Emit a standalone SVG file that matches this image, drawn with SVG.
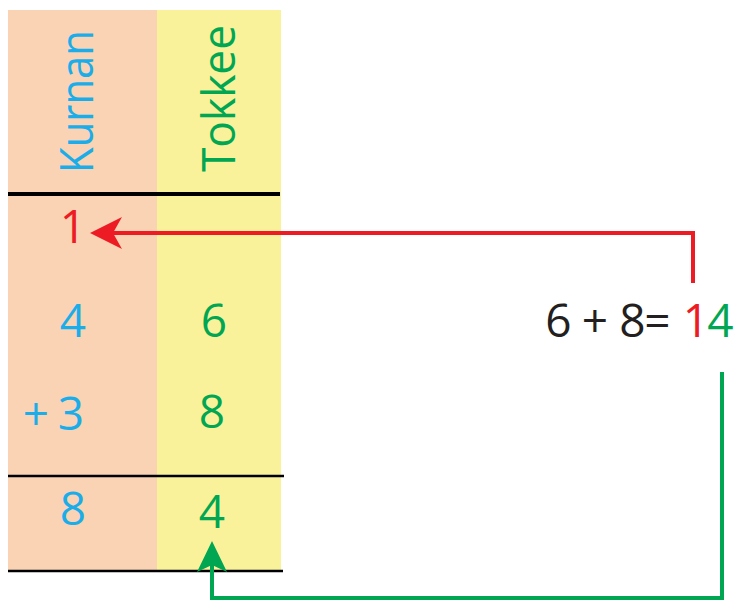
<svg xmlns="http://www.w3.org/2000/svg" width="735" height="601" viewBox="0 0 735 601">
<defs>
<style>
.t{font-family:"Open Sans","Noto Sans","Liberation Sans",sans-serif;font-size:46px;text-anchor:middle}
.blue{fill:#1AADE9}
.green{fill:#00A651}
.red{fill:#ED1C24}
.black{fill:#231F20}
.rule{stroke:#000;fill:none}
.conn{fill:none;stroke-width:4;stroke-linejoin:miter}
</style>
<marker id="headRed" viewBox="0 -16 32 32" refX="9" refY="0" markerUnits="userSpaceOnUse" markerWidth="32" markerHeight="32" orient="auto">
<path d="M0,-16 L32,0 L0,16 L9,0 Z" fill="#ED1C24"/>
</marker>
<marker id="headGreen" viewBox="0 -16 32 32" refX="9" refY="0" markerUnits="userSpaceOnUse" markerWidth="32" markerHeight="32" orient="auto">
<path d="M0,-15 L31,0 L0,15 L7,0 Z" fill="#00A651"/>
</marker>
</defs>
<rect width="735" height="601" fill="#fff"/>
<g id="column-kurnan">
<rect x="8" y="10" width="149" height="560" fill="#FAD3B4"/>
<text class="t blue" transform="translate(93,101.5) rotate(-90)" textLength="143" lengthAdjust="spacingAndGlyphs">Kurnan</text>
</g>
<g id="column-tokkee">
<rect x="157" y="10" width="124" height="560" fill="#F9F29B"/>
<text class="t green" transform="translate(235,98.5) rotate(-90)" textLength="147" lengthAdjust="spacingAndGlyphs">Tokkee</text>
</g>
<g id="rules">
<line class="rule" x1="8" y1="194" x2="280" y2="194" stroke-width="4"/>
<line class="rule" x1="8" y1="476" x2="284" y2="476" stroke-width="2.5"/>
<line class="rule" x1="8" y1="571" x2="283" y2="571" stroke-width="2.5"/>
</g>
<g id="carry">
<text class="t red" x="73" y="243">1</text>
</g>
<g id="row-1">
<text class="t blue" x="73" y="337">4</text>
<text class="t green" x="214" y="337">6</text>
</g>
<g id="row-2">
<text class="t blue" x="36" y="430">+</text>
<text class="t blue" x="71" y="430">3</text>
<text class="t green" x="212" y="428">8</text>
</g>
<g id="row-sum">
<text class="t blue" x="73" y="525">8</text>
<text class="t green" x="212" y="528">4</text>
</g>
<g id="equation">
<text class="t black" y="337"><tspan x="558.5">6</tspan><tspan x="595">+</tspan><tspan x="632.5">8</tspan><tspan x="657.5">=</tspan><tspan class="red" x="696">1</tspan><tspan class="green" x="720.5">4</tspan></text>
</g>
<g id="connectors">
<polyline class="conn" stroke="#ED1C24" points="693,283 693,233 113,233" marker-end="url(#headRed)"/>
<polyline class="conn" stroke="#00A651" points="722,372 722,598 212,598 212,563" marker-end="url(#headGreen)"/>
</g>
</svg>
